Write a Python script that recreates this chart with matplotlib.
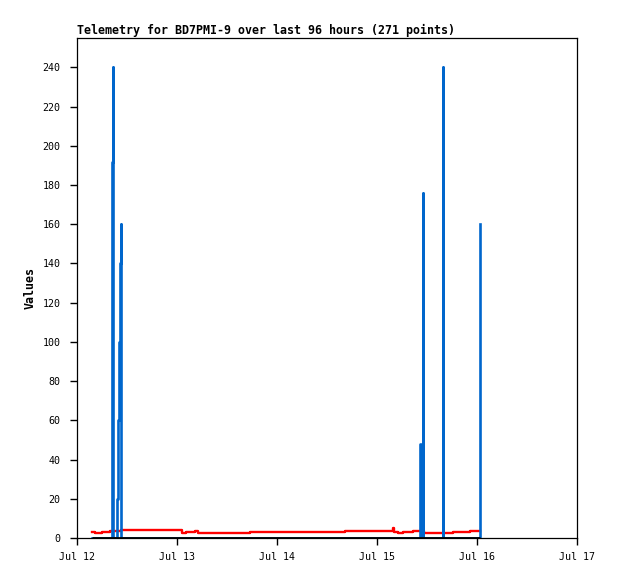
import matplotlib
matplotlib.use("Agg")
import matplotlib.pyplot as plt

# hours since Jul 12 00:00
red_t = [3.6, 4.3, 5.9, 7.9, 10.6, 25.1, 26.1, 28.3, 29.1, 41.4, 64.3,
         75.9, 76.1, 77.0, 78.3, 80.7, 83.3, 90.2, 94.3, 96.6]
red_v = [3.3, 2.7, 3.2, 3.6, 3.9, 2.7, 3.2, 3.7, 2.7, 3.2, 3.7,
         5.1, 3.2, 2.7, 3.2, 3.7, 2.7, 3.2, 3.7, 3.7]

blue_t = [3.6, 8.35, 8.45, 8.62, 8.74, 9.48, 9.58, 9.77, 10.01, 10.27, 10.56, 10.61,
          82.2, 82.27, 82.44, 82.58, 82.68, 82.94, 83.04,
          87.74, 87.79, 87.86, 96.58, 96.67]
blue_v = [0, 0, 192, 240, 0, 0, 20, 60, 100, 140, 160, 0,
          0, 48, 0, 26, 0, 176, 0,
          0, 240, 0, 0, 160]

black_t = [3.6, 96.6]
black_v = [0, 0]

xticks = [0, 24, 48, 72, 96, 120]
xlabels = ["Jul 12", "Jul 13", "Jul 14", "Jul 15", "Jul 16", "Jul 17"]
yticks = list(range(0, 241, 20))

mono = "DejaVu Sans Mono"

fig = plt.figure(figsize=(6.18, 5.79), dpi=100)
ax = fig.add_axes([77 / 618, 41 / 579, 500 / 618, 500 / 579])

ax.plot(red_t, red_v, color="#ff0000", lw=1.7, drawstyle="steps-post", zorder=2)
ax.plot(blue_t, blue_v, color="#0066cc", lw=1.9, drawstyle="steps-post", zorder=3)
ax.plot(black_t, black_v, color="black", lw=2.0, zorder=4, solid_capstyle="butt")

ax.set_xlim(0, 120)
ax.set_ylim(0, 255)
ax.set_xticks(xticks)
ax.set_xticklabels(xlabels, family=mono, fontsize=7.2)
ax.set_yticks(yticks)
ax.set_yticklabels([str(v) for v in yticks], family=mono, fontsize=7.2)
ax.tick_params(direction="out", length=5, width=1, pad=5)
ax.tick_params(axis="y", pad=7)

for s in ax.spines.values():
    s.set_linewidth(0.9)

ax.set_ylabel("Values", family=mono, fontsize=8.4, fontweight="bold", labelpad=4)
ax.set_title("Telemetry for BD7PMI-9 over last 96 hours (271 points)",
             family=mono, fontsize=8.4, fontweight="bold", loc="left", pad=3)

fig.savefig("out.png", dpi=100)
